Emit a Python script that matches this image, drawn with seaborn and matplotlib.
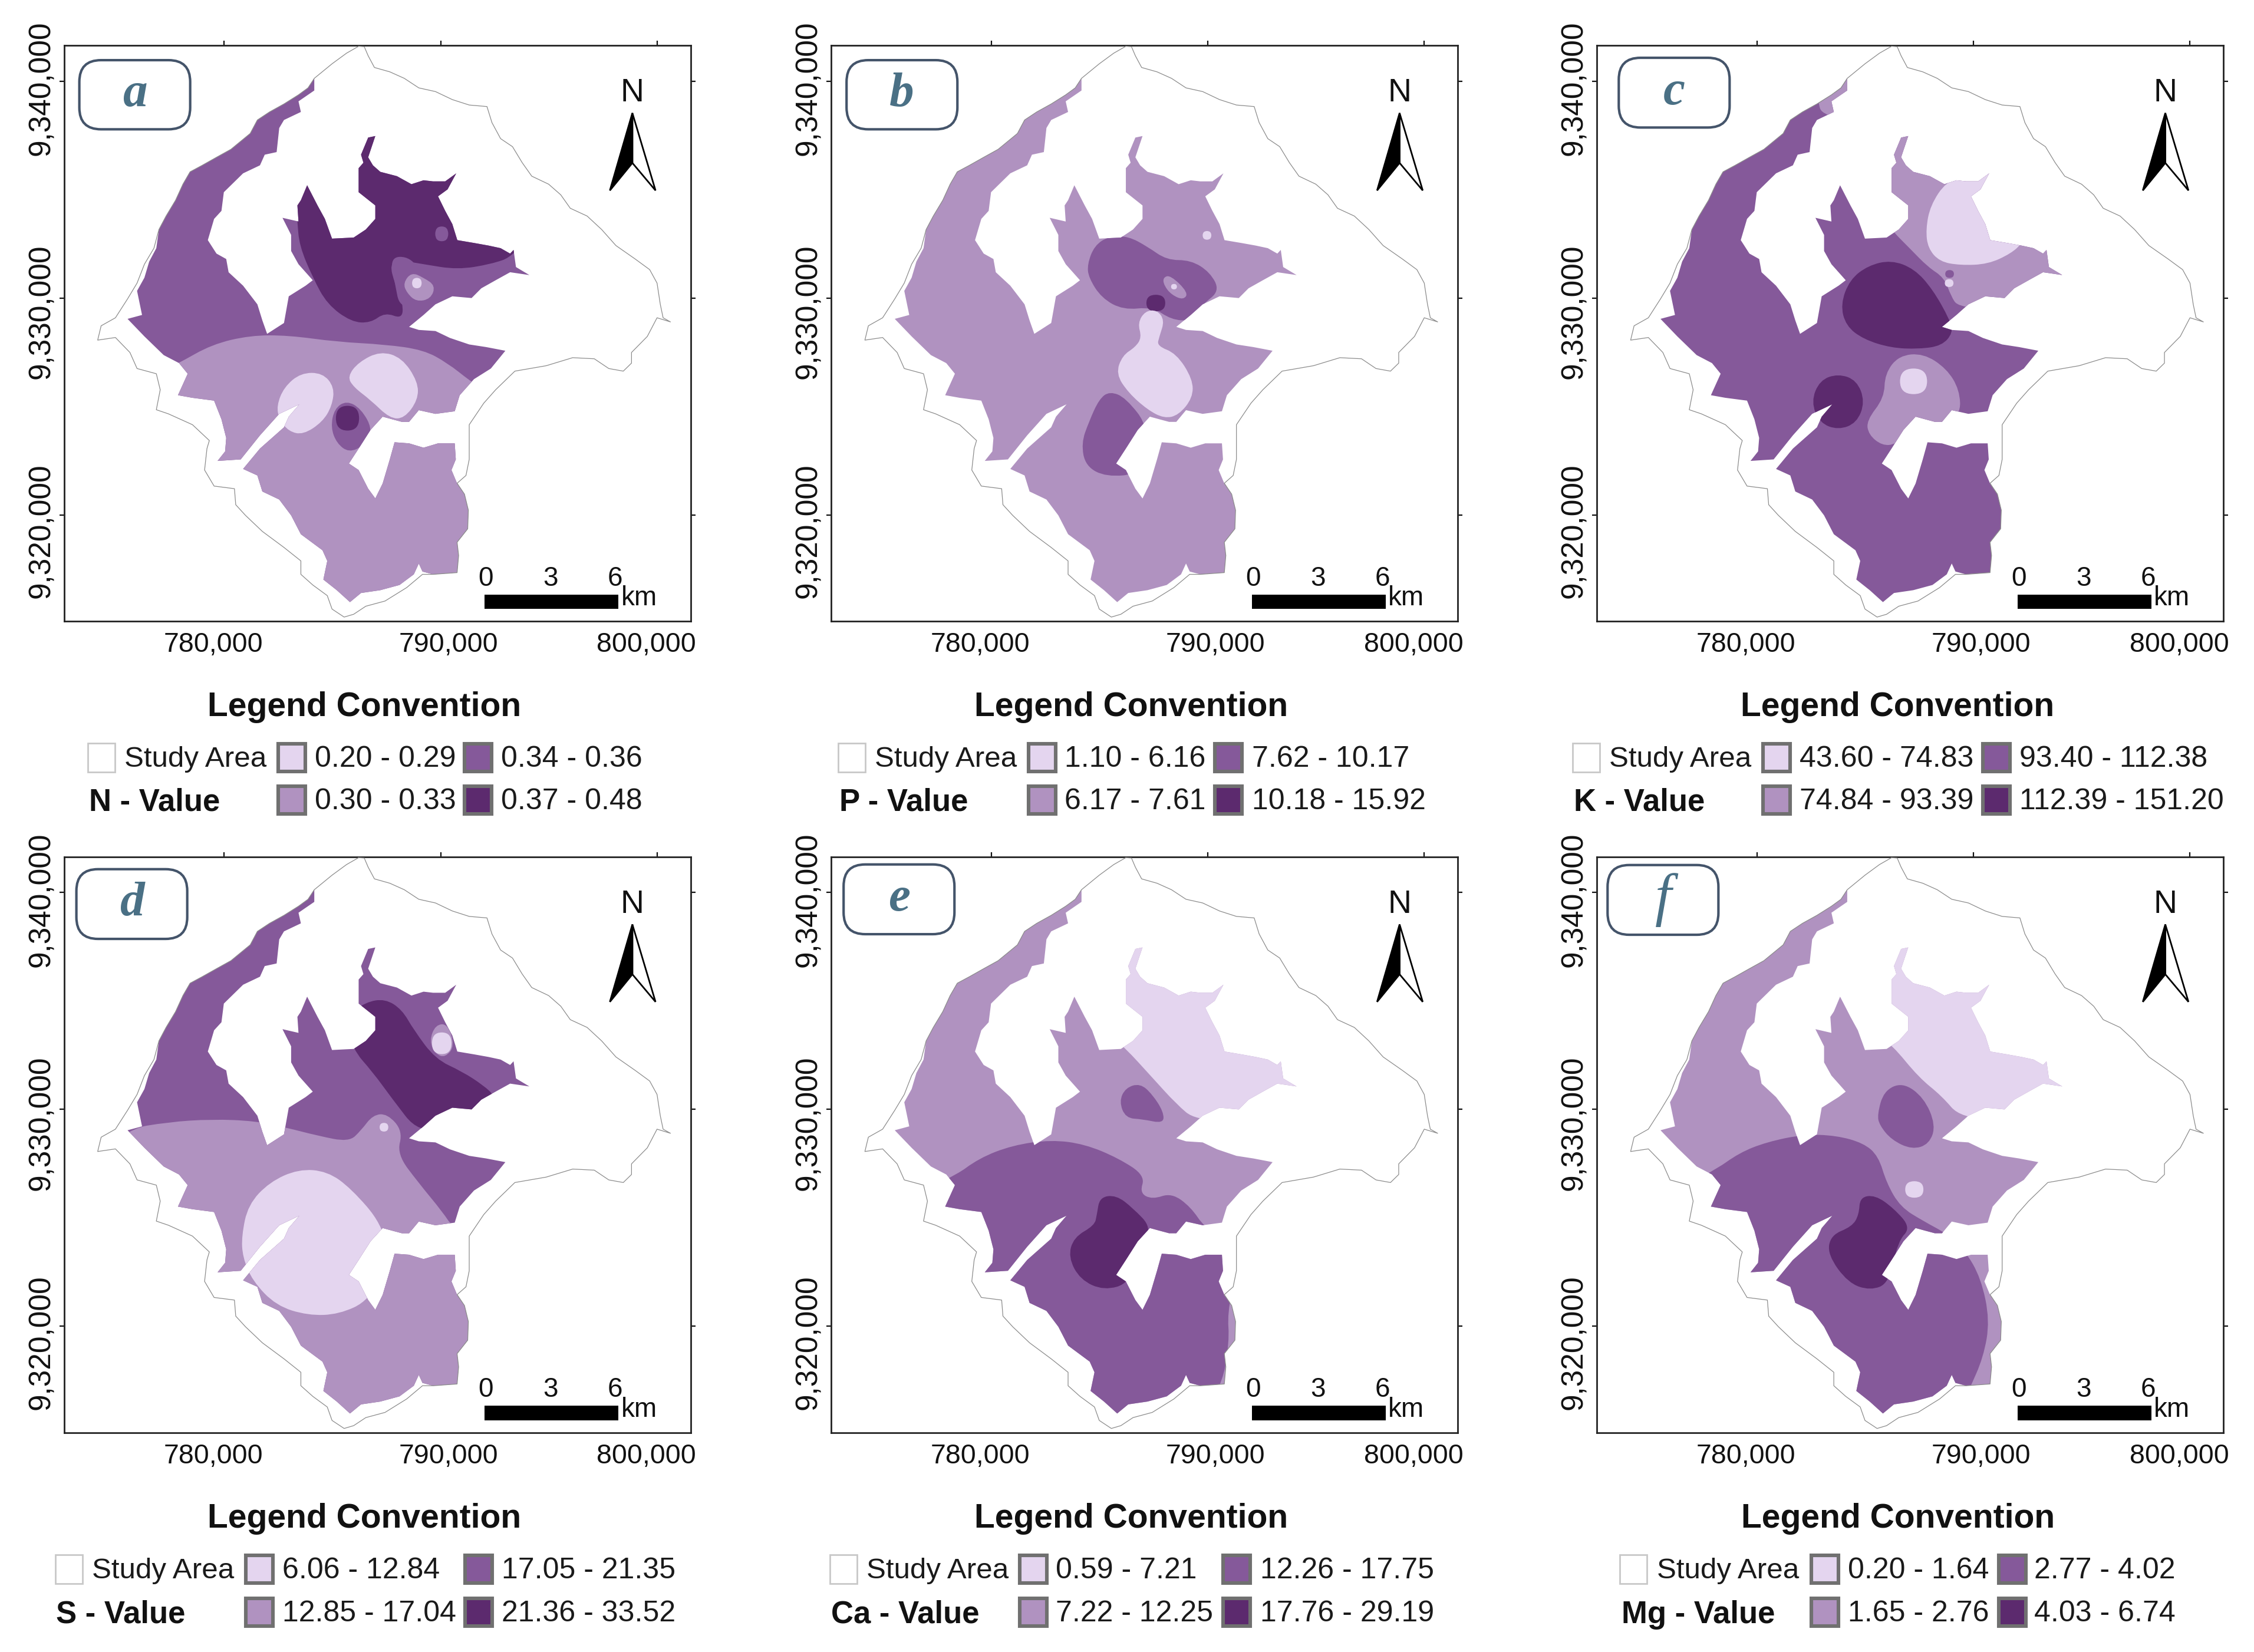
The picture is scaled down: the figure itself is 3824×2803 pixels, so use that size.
import numpy as np
import seaborn as sns
import matplotlib
matplotlib.use("Agg")
import matplotlib.pyplot as plt
from matplotlib.patches import PathPatch, Rectangle, FancyBboxPatch, Polygon
from matplotlib.path import Path
from matplotlib.transforms import ScaledTranslation

# all traces below are (km east of 780,000 , km north of 9,320,000)
study_boundary = [(6.21,21.61),(6.47,21.59),(6.65,21.17),(6.94,20.63),(7.65,20.43),(8.32,20.13),(8.99,19.69),(9.76,19.52),
    (10.54,19.15),(11.32,18.90),(12.14,18.83),(12.37,18.09),(12.77,17.35),(13.32,16.98),(13.77,16.24),(14.21,15.62),
    (14.99,15.25),(15.55,14.76),(15.99,14.14),(16.77,13.78),(17.44,13.16),(18.10,12.42),(18.99,11.80),(19.66,11.31),
    (20.00,10.69),(20.15,9.71),(20.28,9.09),(20.62,8.90),(20.0,9.09),(19.55,8.23),(18.82,7.49),(18.82,7.0),(18.44,6.63),
    (17.77,6.75),(17.10,7.20),(16.10,7.25),(14.88,6.88),(13.43,6.63),(12.54,5.77),(11.99,5.15),(11.32,4.16),(11.32,2.56),
    (11.17,1.82),(10.76,1.46),(11.10,.96),(11.28,.22),(11.25,-.64),(10.76,-1.26),(10.83,-1.87),(10.76,-2.66),(9.65,-2.74),
    (9.16,-2.74),(8.43,-3.35),(7.43,-3.97),(6.54,-4.21),(5.98,-4.58),(5.54,-4.71),(4.98,-4.34),(4.76,-3.72),(4.09,-3.23),
    (3.54,-2.74),(3.54,-2.12),(2.76,-1.50),(1.76,-.76),(.98,-.02),(.53,.47),(.47,1.21),(-.47,1.33),(-.91,2.07),(-.80,3.06),
    (-.69,3.43),(-1.47,4.16),(-2.58,4.66),(-3.14,4.85),(-2.96,5.77),(-3.14,6.51),(-4.03,6.75),(-4.36,7.49),(-5.03,8.18),
    (-5.85,8.06),(-5.69,8.72),(-5.03,9.09),(-4.47,9.96),(-4.03,10.69),(-3.69,11.56),(-3.25,12.30),(-3.02,13.16),(-2.69,13.78),
    (-2.25,14.51),(-1.91,15.25),(-1.58,15.82),(-1.02,16.12),(-.36,16.49),(.31,16.86),(1.20,17.59),(1.53,18.21),(2.09,18.58),
    (2.76,18.95),(3.43,19.37),(3.87,19.69),(4.16,20.13),(4.98,20.80),(5.65,21.29),(6.21,21.61)]

sampled_land = [(4.16,20.13),(3.87,19.69),(3.43,19.37),(2.76,18.95),(2.09,18.58),(1.53,18.21),(1.20,17.59),(.31,16.86),
    (-.36,16.49),(-1.02,16.12),(-1.58,15.82),(-1.91,15.25),(-2.25,14.51),(-2.69,13.78),(-3.02,13.16),(-3.14,12.30),
    (-3.47,11.68),(-3.69,10.94),(-4.03,10.33),(-3.80,9.22),(-4.47,9.04),(-3.69,8.23),(-2.80,7.37),(-2.09,7.00),(-1.69,6.51),
    (-2.14,5.52),(-1.47,5.40),(-.47,5.27),(-.13,4.41),(.09,3.55),(.04,2.93),(-.31,2.49),(.76,2.56),(1.65,3.67),(2.54,4.66),
    (3.47,5.10),(2.98,4.53),(2.76,4.04),(1.65,3.06),(.87,2.12),(1.53,1.82),(1.76,1.08),(2.54,.71),(3.09,-.02),(3.54,-.89),
    (4.54,-1.63),(4.76,-2.12),(4.58,-2.98),(5.20,-3.47),(5.81,-4.02),(6.32,-3.60),(7.21,-3.47),(8.10,-3.23),(8.76,-2.74),
    (8.99,-2.24),(9.16,-2.61),(9.65,-2.74),(10.76,-2.66),(10.83,-1.87),(10.76,-1.26),(11.25,-.64),(11.28,.22),(11.10,.96),
    (10.76,1.45),(10.50,2.07),(10.70,2.56),(10.65,3.30),(9.88,3.30),(9.21,3.10),(8.54,3.30),(7.87,3.35),(7.65,2.56),(7.32,1.45),
    (6.98,.76),(6.65,1.21),(6.21,2.07),(5.76,2.37),(6.21,3.06),(6.76,3.92),(7.32,4.53),(7.76,4.41),(8.21,4.29),(8.54,4.29),
    (8.99,4.83),(9.76,4.66),(10.65,4.78),(10.88,5.52),(11.54,6.26),(12.32,6.75),(12.99,7.57),(12.10,7.74),(11.32,7.86),
    (10.43,8.16),(9.76,8.48),(8.99,8.53),(8.54,8.67),(9.21,9.22),(9.76,9.71),(10.54,10.08),(11.43,10.0),(11.88,10.45),
    (12.54,10.82),(13.21,11.19),(14.10,11.06),(13.48,11.43),(13.37,12.22),(13.21,12.05),(12.77,12.30),(12.21,12.42),
    (11.54,12.54),(10.77,12.67),(10.54,13.41),(10.21,14.02),(9.88,14.69),(10.32,15.01),(10.72,15.75),(10.21,15.38),(9.65,15.38),
    (9.21,15.43),(8.65,15.25),(7.98,15.62),(7.21,15.82),(6.87,16.12),(6.65,16.49),(6.98,17.47),(6.65,17.40),(6.32,16.61),
    (6.43,16.24),(6.21,15.99),(6.21,14.88),(6.98,14.27),(6.98,13.65),(6.54,13.16),(5.98,12.79),(4.98,12.74),(4.65,13.65),
    (4.31,14.27),(3.83,15.20),(3.54,14.51),(3.38,14.27),(3.43,13.53),(2.69,13.70),(3.09,12.91),(3.09,12.17),(3.43,11.56),
    (4.09,10.82),(3.76,10.57),(2.98,10.08),(2.76,8.85),(1.98,8.35),(1.76,8.97),(1.53,9.71),(.87,10.57),(.20,11.19),(.09,11.80),
    (-.36,12.05),(-.76,12.67),(-.47,13.65),(-.13,14.02),(-.02,14.88),(.87,15.75),(1.65,16.12),(1.87,16.61),(2.42,16.73),
    (2.54,17.84),(2.76,18.21),(3.54,18.58),(3.43,19.07),(4.16,19.57)]

# class zones per map, each entry is (class number 0-3, outline); drawn in order over the base class
n_zones = [
    (1, [(-2.09,7.00),(-.58,7.86),(1.20,8.28),(2.98,8.28),(5.20,7.98),(7.43,7.86),(9.21,7.61),(10.32,7.0),(11.32,6.21),(13,5),(13,-6),(-1,-6),(-6,5)]),
    (0, [(2.42,5.03),(2.76,5.89),(3.54,6.55),(4.54,6.55),(5.09,5.89),(4.98,5.03),(4.54,4.29),(3.65,3.70),(2.98,3.85),(2.54,4.41)]),
    (0, [(5.69,6.38),(6.21,7.05),(7.21,7.55),(8.21,7.25),(8.95,6.14),(8.95,5.30),(8.32,4.45),(7.65,4.45),(6.76,5.30),(5.98,5.89)]),
    (2, [(4.92,4.04),(5.09,4.90),(5.65,5.27),(6.32,4.90),(6.87,3.92),(6.43,3.18),(5.76,2.88),(5.20,3.30)]),
    (3, [(5.16,5.03),(6.23,5.03),(6.23,3.89),(5.16,3.89)]),
    (3, [(3.38,13.53),(3.47,12.42),(4.09,10.94),(4.76,9.71),(5.87,8.90),(6.76,8.85),(7.43,9.34),(8.21,9.04),(8.27,9.71),(7.87,10.69),(7.65,11.56),(8.10,11.75),(9.21,11.56),(10.77,11.31),(12.32,11.56),(13.39,11.93),(15,14),(11,19),(3,18)]),
    (2, [(9.75,13.3),(10.35,13.3),(10.35,12.62),(9.75,12.62)]),
    (2, [(7.65,11.9),(8.6,11.9),(9.2,11.0),(9.6,10.2),(9.0,9.6),(8.1,9.6),(7.9,10.6)]),
    (1, [(8.27,10.69),(8.65,11.19),(9.21,10.94),(9.76,10.57),(9.54,9.96),(8.87,9.83),(8.43,10.25)]),
    (0, [(8.68,10.93),(9.12,10.93),(9.12,10.45),(8.68,10.45)]),
]
p_zones = [
    (2, [(4.43,11.56),(4.76,12.42),(5.43,12.85),(6.32,12.85),(7.21,12.37),(8.10,11.75),(9.21,11.75),(10.10,11.19),(10.55,10.33),(9.76,9.71),(9.21,8.95),(8.32,9.0),(7.43,9.59),(6.09,9.45),(5.09,10.0),(4.49,10.94)]),
    (1, [(7.92,10.94),(8.27,11.06),(9.10,10.25),(8.87,9.91),(8.32,10.15),(7.98,10.57)]),
    (0, [(8.3,10.65),(8.57,10.65),(8.57,10.4),(8.3,10.4)]),
    (3, [(7.16,10.15),(8.03,10.15),(8.03,9.39),(7.16,9.39)]),
    (0, [(9.76,13.09),(10.16,13.09),(10.16,12.69),(9.76,12.69)]),
    (0, [(6.76,8.85),(7.10,9.40),(7.65,9.45),(8.0,8.97),(7.76,8.23),(7.65,7.79),(8.54,7.45),(9.30,6.26),(9.30,5.40),(8.65,4.60),(7.98,4.45),(7.21,4.85),(6.32,5.64),(5.75,6.51),(6.05,7.35),(6.65,7.74),(6.94,8.18)]),
    (2, [(5.47,5.70),(6.21,5.40),(7.3,4.0),(6.9,1.9),(5.3,1.75),(4.35,2.25),(4.15,3.30),(4.5,4.29),(4.98,5.35)]),
]
k_zones = [
    (1, [(2.8,19.1),(3.0,18.4),(5.5,18.0),(5.5,21.5),(2.7,20.5)]),
    (1, [(6.30,13.04),(7.04,12.30),(7.89,11.43),(8.64,10.94),(8.96,10.08),(9.28,9.6),(10.87,9.5),(15.13,11),(13,18),(5.77,18.1),(5.6,13.9)]),
    (0, [(7.79,13.16),(8.0,14.27),(8.74,15.38),(9.70,15.62),(11.09,16.12),(13.0,13.90),(12.26,12.54),(11.72,12.05),(10.66,11.56),(9.38,11.51),(8.43,11.68),(7.89,12.30)]),
    (3, [(3.85,9.71),(4.28,10.85),(5.13,11.5),(6.19,11.75),(7.26,11.35),(8.11,10.4),(8.9,9.0),(9.05,8.4),(8.53,7.8),(7.47,7.65),(6.19,7.7),(4.91,8.1),(4.1,8.72)]),
    (3, [(2.49,5.22),(2.89,6.21),(3.74,6.51),(4.60,6.21),(4.98,5.22),(4.60,4.24),(3.74,3.92),(2.89,4.24)]),
    (1, [(5.05,4.35),(5.87,5.40),(5.90,6.51),(6.55,7.35),(7.68,7.45),(8.75,6.75),(9.35,5.77),(9.40,4.6),(8.32,4.0),(7.04,3.9),(6.40,3.25),(5.77,3.2),(5.15,3.7)]),
    (0, [(6.6,6.75),(7.85,6.75),(7.85,5.57),(6.6,5.57)]),
    (2, [(8.69,11.29),(9.09,11.29),(9.09,10.93),(8.69,10.93)]),
    (2, [(8.26,10.6),(8.46,10.6),(8.46,10.4),(8.26,10.4)]),
    (0, [(8.67,10.87),(9.07,10.87),(9.07,10.51),(8.67,10.51)]),
]
s_zones = [
    (1, [(-4.6,9.08),(-2.58,9.42),(-.58,9.55),(1.42,9.47),(2.87,9.16),(4.31,8.79),(5.76,8.5),(6.32,9.03),(6.87,9.75),(7.54,9.8),(8.25,9.0),(7.98,7.94),(8.99,6.60),(10.10,5.26),(10.6,4.5),(14,3),(13,-7),(-1,-7),(-8,6)]),
    (0, [(.80,4.16),(1.10,5.60),(2.09,6.65),(3.43,7.25),(4.76,7.15),(5.87,6.35),(7.3,4.7),(7.6,3.0),(6.7,1.2),(5.3,.55),(3.87,.5),(2.4,.95),(1.3,2.1),(.85,3.19)]),
    (3, [(5.9,12.81),(6.87,11.71),(7.76,10.49),(8.99,8.9),(10.77,9.3),(12.54,10.0),(12.5,10.62),(11.99,11.10),(10.99,11.75),(9.76,12.32),(8.76,13.66),(8.21,14.61),(7.43,15.1),(6.54,14.95),(5.65,14.3)]),
    (1, [(9.48,13.17),(9.76,13.90),(10.32,13.95),(10.65,12.93),(10.21,12.39),(9.76,12.56)]),
    (0, [(9.6,13.55),(10.5,13.55),(10.5,12.55),(9.6,12.55)]),
    (0, [(7.18,9.38),(7.58,9.38),(7.58,8.98),(7.18,8.98)]),
]
ca_zones = [
    (0, [(6.14,12.88),(7.43,11.47),(8.54,10.25),(9.43,9.5),(11.88,9.5),(16.33,11),(13,19),(5.2,18.3),(5.43,13.42)]),
    (2, [(-1.80,6.84),(-.58,7.75),(.98,8.35),(2.76,8.6),(4.31,8.4),(5.87,7.75),(7.1,6.95),(6.85,6.15),(7.43,5.85),(8.32,6.15),(9.21,5.5),(9.85,4.55),(10.8,4.1),(11.3,2.5),(10.9,.6),(11.0,-.7),(10.6,-3),(8,-7),(0,-7),(-8,4)]),
    (3, [(4.87,5.14),(5.0,5.95),(5.76,6.05),(6.54,5.45),(7.4,4.55),(6.9,3.68),(6.4,2.0),(5.20,1.65),(4.10,2.15),(3.55,3.19),(3.80,4.1),(4.76,4.65)]),
    (2, [(5.9,10.37),(6.2,11.0),(6.87,11.2),(7.43,10.7),(7.95,9.89),(7.95,9.35),(6.98,9.55),(6.2,9.6)]),
]
mg_zones = [
    (0, [(6.23,12.98),(7.47,11.47),(8.53,10.62),(9.4,9.6),(12,9.5),(16.3,11),(13,19),(5.2,18.3),(5.5,13.42)]),
    (2, [(-2.04,7.13),(-.83,8.0),(.45,8.5),(2.15,8.85),(3.64,8.8),(4.91,8.45),(5.6,7.85),(5.98,6.60),(6.62,5.50),(7.68,4.85),(8.8,4.25),(9.6,3.5),(10.34,2.22),(10.75,.27),(10.45,-1.44),(9.8,-2.9),(8,-7),(0,-7),(-8,4)]),
    (3, [(4.7,5.14),(4.75,5.95),(5.45,6.05),(6.30,5.45),(7.1,4.55),(6.5,3.92),(6.1,2.0),(5.23,1.65),(4.2,2.0),(3.25,3.31),(3.4,4.2),(4.38,4.6)]),
    (2, [(5.55,9.76),(5.85,10.85),(6.72,11.25),(7.7,10.55),(8.25,9.28),(7.95,8.4),(7.15,8.15),(6.2,8.6),(5.65,9.28)]),
    (0, [(6.84,6.69),(7.68,6.69),(7.68,5.93),(6.84,5.93)]),
]

letters = ["a", "b", "c", "d", "e", "f"]
value_labels = ["N - Value", "P - Value", "K - Value", "S - Value", "Ca - Value", "Mg - Value"]
base_class = [2, 1, 2, 2, 1, 1]
all_zones = [n_zones, p_zones, k_zones, s_zones, ca_zones, mg_zones]
class_ranges = [
    ["0.20 - 0.29", "0.30 - 0.33", "0.34 - 0.36", "0.37 - 0.48"],
    ["1.10 - 6.16", "6.17 - 7.61", "7.62 - 10.17", "10.18 - 15.92"],
    ["43.60 - 74.83", "74.84 - 93.39", "93.40 - 112.38", "112.39 - 151.20"],
    ["6.06 - 12.84", "12.85 - 17.04", "17.05 - 21.35", "21.36 - 33.52"],
    ["0.59 - 7.21", "7.22 - 12.25", "12.26 - 17.75", "17.76 - 29.19"],
    ["0.20 - 1.64", "1.65 - 2.76", "2.77 - 4.02", "4.03 - 6.74"],
]
x_tick_values = [780000, 790000, 800000]
y_tick_values = [9340000, 9330000, 9320000]
scale_labels = ["0", "3", "6"]

palette = sns.color_palette(["#E4D5EF", "#B092C0", "#85599A", "#5C2A6E"])

W, H = 3824, 2803
DPI = 100
# layout in output pixels
frame_left = [108.6, 1410.2, 2709.3, 108.6, 1410.2, 2709.3]
frame_top = [77, 77, 77, 1453.7, 1453.7, 1453.7]
frame_w, frame_h = 1063, 977
badge_boxes = [(26, 25, 214, 142), (26, 25, 214, 142), (37, 21, 225, 139), (21, 21, 209, 139), (21, 13, 209, 131), (18, 14, 206, 132)]
legend_cols = [  # study swatch, study text, value label, swatch 1, text 1, swatch 2, text 2
    (149, 211, 151, 469, 534, 785, 850),
    (1422, 1484, 1424, 1742, 1806, 2058, 2124),
    (2668, 2730, 2670, 2988, 3053, 3361, 3426),
    (94, 156, 95, 414, 479, 786, 851),
    (1408, 1470, 1410, 1727, 1791, 2072, 2138),
    (2748, 2811, 2751, 3070, 3135, 3388, 3451),
]
title_x = [618, 1919, 3219, 618, 1919, 3220]
x_label_shift = [-19, 13, -18]
y_label_shift = [12, 23, 27]


def smooth_path(points):
    # quadratic curve through the edge midpoints, the traced points act as controls
    pts = np.array(points, dtype=float)
    mids = (pts + np.roll(pts, -1, axis=0)) / 2
    verts = [mids[-1]]
    codes = [Path.MOVETO]
    for p, m in zip(pts, mids):
        verts += [p, m]
        codes += [Path.CURVE3, Path.CURVE3]
    return Path(verts, codes)


def draw_map(ax, i):
    land = ax.fill(*zip(*sampled_land), color=palette[base_class[i]], lw=0, zorder=2)[0]
    for cls, outline in all_zones[i]:
        patch = PathPatch(smooth_path(outline), facecolor=palette[cls], edgecolor="none", zorder=3)
        ax.add_patch(patch)
        patch.set_clip_path(land)
    bx, by = zip(*study_boundary)
    sns.lineplot(x=list(bx), y=list(by), sort=False, estimator=None, color="#8c8c8c", lw=0.9, ax=ax, zorder=4)

    # scale bar
    ax.add_patch(Rectangle((12.03, -4.34), 6.19, 0.67, color="black", lw=0, zorder=5))
    for lab, xpos in zip(scale_labels, [12.08, 15.08, 18.06]):
        ax.text(xpos, -2.93, lab, ha="center", va="center", fontsize=33)
    ax.text(18.33, -3.84, "km", ha="left", va="center", fontsize=33)

    # north arrow
    ax.text(18.86, 19.44, "N", ha="center", va="center", fontsize=40)
    ax.add_patch(Polygon([(18.86, 18.53), (19.93, 14.96), (18.86, 16.23)], fc="white", ec="black", lw=2, zorder=5))
    ax.add_patch(Polygon([(18.86, 18.53), (17.82, 14.96), (18.86, 16.23)], fc="black", ec="black", lw=2, zorder=5))

    # panel badge
    x0, y0, x1, y1 = badge_boxes[i]
    km = 36.7
    left = ax.get_xlim()[0] + x0 / km
    right = ax.get_xlim()[0] + x1 / km
    top = ax.get_ylim()[1] - y0 / km
    bottom = ax.get_ylim()[1] - y1 / km
    r = 1.0
    ax.add_patch(FancyBboxPatch((left + r, bottom + r), right - left - 2 * r, top - bottom - 2 * r,
                                boxstyle=f"round,pad={r},rounding_size={r}", fc="white", ec="#44546A", lw=3, zorder=6))
    is_f = letters[i] == "f"
    ax.text((left + right) / 2, (top + bottom) / 2, letters[i], ha="center", va="center", fontsize=72 if is_f else 60,
            family="Liberation Serif", style="italic", weight="normal" if is_f else "bold", color="#4A7085", zorder=7)

    # axes and hand placed tick labels
    ax.set_xticks([(v - 780000) / 1000 for v in x_tick_values])
    ax.set_yticks([(v - 9320000) / 1000 for v in y_tick_values])
    ax.set_xticklabels([f"{v:,}" for v in x_tick_values], fontsize=33.5)
    ax.set_yticklabels([f"{v:,}" for v in y_tick_values], fontsize=37, rotation=90, va="center")
    ax.tick_params(axis="both", which="both", direction="out", length=6, width=1.6, top=True, right=True, bottom=False, left=True)
    ax.tick_params(axis="x", pad=7)
    ax.tick_params(axis="y", pad=4)
    for lab, s in zip(ax.get_xticklabels(), x_label_shift):
        lab.set_transform(lab.get_transform() + ScaledTranslation(s / DPI, 0, fig.dpi_scale_trans))
    for lab, s in zip(ax.get_yticklabels(), y_label_shift):
        lab.set_transform(lab.get_transform() + ScaledTranslation(0, -s / DPI, fig.dpi_scale_trans))
    for spine in ax.spines.values():
        spine.set_linewidth(2)
        spine.set_color("#222222")


def px_text(x, y, s, **kw):
    fig.text(x / W, 1 - y / H, s, va="center", **kw)


def px_box(x0, y0, x1, y1, **kw):
    fig.add_artist(Rectangle((x0 / W, 1 - y1 / H), (x1 - x0) / W, (y1 - y0) / H, transform=fig.transFigure, **kw))


def draw_legend(i):
    study_sw, study_tx, val_tx, sw1, tx1, sw2, tx2 = legend_cols[i]
    off = 0 if i < 3 else 1377
    rows = [1288 + off, 1360 + off + (1 if i >= 3 else 0)]
    px_text(title_x[i], 1200 + off, "Legend Convention", ha="center", fontsize=41, weight="bold")
    px_box(study_sw, rows[0] - 27, study_sw + 46, rows[0] + 22, fc="white", ec="#c8c8c8", lw=2)
    px_text(study_tx, rows[0], "Study Area", fontsize=35.5, color="#1a1a1a")
    px_text(val_tx, rows[1] + 2, value_labels[i], fontsize=38, weight="bold")
    for k, text in enumerate(class_ranges[i]):
        sw = sw1 if k < 2 else sw2
        tx = tx1 if k < 2 else tx2
        y = rows[k % 2]
        px_box(sw + 3, y - 26, sw + 49, y + 21, fc=palette[k], ec="#707070", lw=4.4)
        px_text(tx, y, text, fontsize=36, color="#1a1a1a")


sns.set_theme(style="white")
plt.rcParams["font.family"] = ["Liberation Sans", "DejaVu Sans"]
plt.rcParams["text.color"] = "#111111"
plt.rcParams["xtick.color"] = "#111111"
plt.rcParams["ytick.color"] = "#111111"

fig = plt.figure(figsize=(W / DPI, H / DPI), dpi=DPI)
for i in range(6):
    ax = fig.add_axes([frame_left[i] / W, 1 - (frame_top[i] + frame_h) / H, frame_w / W, frame_h / H])
    ax.set_xlim(-7.406, 21.55)
    ax.set_ylim(-4.90, 21.65)
    draw_map(ax, i)
    draw_legend(i)

fig.savefig("out.png", dpi=DPI)
